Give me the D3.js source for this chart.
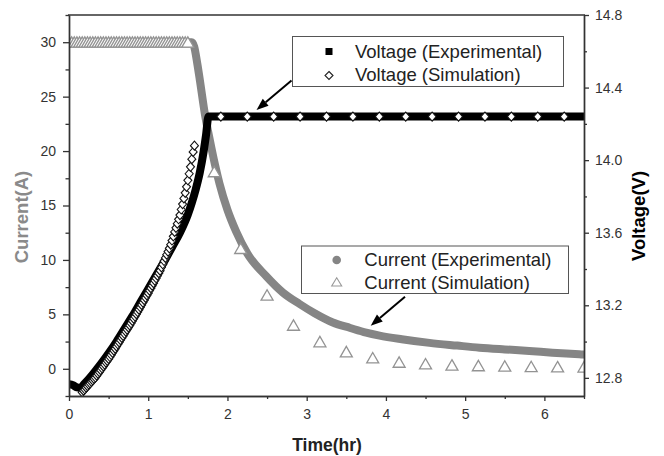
<!DOCTYPE html>
<html><head><meta charset="utf-8">
<script src="https://cdn.jsdelivr.net/npm/d3@7"></script>
<style>body{margin:0;background:#fff} svg{display:block} text{font-family:'Liberation Sans',Arial,sans-serif}</style>
</head><body><svg id="c" width="664" height="456"></svg>
<script>
// ---------- data ----------
const xTicks=[0,1,2,3,4,5,6];
const xMinorTicks=[0.5,1.5,2.5,3.5,4.5,5.5,6.5];
const currentTicks=[0,5,10,15,20,25,30];
const currentMinorTicks=[-2.5,2.5,7.5,12.5,17.5,22.5,27.5,32.5];
const voltageTicks=[12.8,13.2,13.6,14.0,14.4,14.8];
const voltageMinorTicks=[13.0,13.4,13.8,14.2,14.6];

// Voltage (Experimental), hours / volts
const voltageExpTime=[0,0.05,0.10,0.14,0.20,0.30,0.40,0.50,0.60,0.70,0.80,0.90,1.00,1.10,1.20,1.30,1.40,1.50,1.55,1.60,1.65,1.70,1.73,1.76,2.5,3.5,4.5,5.5,6.5];
const voltageExpValue=[12.765,12.76,12.747,12.745,12.77,12.82,12.875,12.935,13.0,13.07,13.14,13.215,13.29,13.365,13.44,13.52,13.60,13.70,13.765,13.84,13.93,14.05,14.14,14.24,14.24,14.24,14.24,14.24,14.24];

// Voltage (Simulation), minutes / volts
const voltageSimMin=[10,11,12,13,14,15,16,17,18,19,20,21,22,23,24,25,26,27,28,29,30,31,32,33,34,35,36,37,38,39,40,41,42,43,44,45,46,47,48,49,50,51,52,53,54,55,56,57,58,59,60,61,62,63,64,65,66,67,68,69,70,71,72,73,74,75,76,77,78,79,80,81,82,83,84,85,86,87,88,89,90,91,92,93,94,95,115,135,155,175,195,215,235,255,275,295,315,335,355,375];
const voltageSimValue=[12.720,12.729,12.737,12.746,12.754,12.763,12.770,12.778,12.786,12.794,12.802,12.812,12.822,12.832,12.842,12.853,12.863,12.873,12.884,12.894,12.904,12.915,12.926,12.938,12.950,12.961,12.973,12.985,12.996,13.008,13.020,13.031,13.043,13.055,13.066,13.078,13.089,13.101,13.114,13.126,13.138,13.151,13.163,13.176,13.189,13.202,13.215,13.228,13.241,13.254,13.267,13.281,13.294,13.308,13.322,13.336,13.349,13.363,13.377,13.391,13.409,13.426,13.444,13.461,13.479,13.496,13.514,13.534,13.557,13.580,13.604,13.627,13.650,13.674,13.697,13.728,13.758,13.789,13.820,13.853,13.889,13.925,13.963,14.005,14.045,14.080,14.24,14.24,14.24,14.24,14.24,14.24,14.24,14.24,14.24,14.24,14.24,14.24,14.24,14.24];

// Current (Experimental), hours / amps
const currentExpTime=[0,0.5,1.0,1.55,1.58,1.62,1.652,1.715,1.778,1.841,1.9,2.0,2.11,2.25,2.49,2.7,2.91,3.1,3.33,3.55,3.75,3.92,4.2,4.55,4.9,5.18,5.5,5.81,6.1,6.44,6.5];
const currentExpValue=[30,30,30,30,29.6,28,26.5,23.4,21.0,18.8,17.0,14.6,12.6,10.6,8.5,7.0,5.95,5.1,4.25,3.75,3.32,3.05,2.72,2.38,2.13,1.94,1.78,1.64,1.48,1.33,1.3];

// Current (Simulation), minutes / amps
const currentSimMin=[0,2,4,6,8,10,12,14,16,18,20,22,24,26,28,30,32,34,36,38,40,42,44,46,48,50,52,54,56,58,60,62,64,66,68,70,72,74,76,78,80,82,84,86,88,90,110,130,150,170,190,210,230,250,270,290,310,330,350,370,390];
const currentSimValue=[30,30,30,30,30,30,30,30,30,30,30,30,30,30,30,30,30,30,30,30,30,30,30,30,30,30,30,30,30,30,30,30,30,30,30,30,30,30,30,30,30,30,30,30,30,30,18.1,11.05,6.76,4.0,2.48,1.56,1.0,0.6,0.45,0.34,0.28,0.24,0.2,0.18,0.16];

// ---------- drawing ----------
const svg=d3.select('#c');
const L=69,R=584,T=15,B=396;
const x=d3.scaleLinear().domain([0,6.5]).range([L,R]);
const yI=d3.scaleLinear().domain([-2.5,32.5]).range([B,T]);
const yV=d3.scaleLinear().domain([12.7,14.8]).range([B,T]);
const axisCol='#333';

svg.append('defs').append('clipPath').attr('id','plot')
  .append('rect').attr('x',L).attr('y',T).attr('width',R-L).attr('height',B-T);
const g=svg.append('g').attr('clip-path','url(#plot)');

// current experimental (grey dense circles -> band)
g.append('path')
  .datum(currentExpTime.map((t,i)=>[t,currentExpValue[i]]))
  .attr('d',d3.line().x(d=>x(d[0])).y(d=>yI(d[1])).curve(d3.curveMonotoneX))
  .attr('fill','none').attr('stroke','#858585').attr('stroke-width',8)
  .attr('stroke-linejoin','round').attr('stroke-linecap','round');

// current simulation (open triangles)
const tri='M0,-5.4L6,5L-6,5Z';
g.selectAll('.ctri').data(currentSimMin.map((m,i)=>[m/60,currentSimValue[i]])).join('path')
  .attr('transform',d=>`translate(${x(d[0])},${yI(d[1])})`)
  .attr('d',tri).attr('fill','#fff').attr('stroke','#939393').attr('stroke-width',1.3);

// voltage experimental (black dense squares -> band)
g.append('path')
  .datum(voltageExpTime.map((t,i)=>[t,voltageExpValue[i]]))
  .attr('d',d3.line().x(d=>x(d[0])).y(d=>yV(d[1])).curve(d3.curveMonotoneX))
  .attr('fill','none').attr('stroke','#000').attr('stroke-width',8)
  .attr('stroke-linejoin','miter').attr('stroke-linecap','square');

// voltage simulation (open diamonds)
const dia='M0,-4.5L4,0L0,4.5L-4,0Z';
g.selectAll('.vdia').data(voltageSimMin.map((m,i)=>[m/60,voltageSimValue[i]])).join('path')
  .attr('transform',d=>`translate(${x(d[0])},${yV(d[1])})`)
  .attr('d',dia).attr('fill','#fff').attr('stroke','#111').attr('stroke-width',1.1);

// ---------- axes ----------
function styleAxis(sel){
  sel.selectAll('.domain').attr('stroke',axisCol).attr('stroke-width',1.4);
  sel.selectAll('.tick line').attr('stroke',axisCol).attr('stroke-width',1.3);
  sel.selectAll('.tick text').attr('fill','#333').attr('font-size','14px')
    .attr('font-family',"'Liberation Sans',Arial,sans-serif");
}
const ax=svg.append('g').attr('transform',`translate(0,${B})`)
  .call(d3.axisBottom(x).tickValues(xTicks).tickFormat(d3.format('d')).tickSize(5).tickSizeOuter(0).tickPadding(8));
styleAxis(ax);
const axm=svg.append('g').attr('transform',`translate(0,${B})`)
  .call(d3.axisBottom(x).tickValues(xMinorTicks).tickFormat('').tickSize(3).tickSizeOuter(0));
styleAxis(axm);

const ayl=svg.append('g').attr('transform',`translate(${L},0)`)
  .call(d3.axisLeft(yI).tickValues(currentTicks).tickFormat(d3.format('d')).tickSize(6).tickSizeOuter(0).tickPadding(7));
styleAxis(ayl);
const aylm=svg.append('g').attr('transform',`translate(${L},0)`)
  .call(d3.axisLeft(yI).tickValues(currentMinorTicks).tickFormat('').tickSize(3.5).tickSizeOuter(0));
styleAxis(aylm);

const ayr=svg.append('g').attr('transform',`translate(${R},0)`)
  .call(d3.axisRight(yV).tickValues(voltageTicks).tickFormat(d3.format('.1f')).tickSize(5).tickSizeOuter(0).tickPadding(6));
styleAxis(ayr);
const ayrm=svg.append('g').attr('transform',`translate(${R},0)`)
  .call(d3.axisRight(yV).tickValues(voltageMinorTicks).tickFormat('').tickSize(3).tickSizeOuter(0));
styleAxis(ayrm);

// top frame line
svg.append('line').attr('x1',L-1).attr('x2',R+1).attr('y1',T).attr('y2',T)
  .attr('stroke',axisCol).attr('stroke-width',1.4);

// axis titles
svg.append('text').attr('x',327).attr('y',451).attr('text-anchor','middle')
  .attr('font-size','17.5px').attr('font-weight','bold').attr('fill','#222').text('Time(hr)');
svg.append('text').attr('transform','translate(28,217) rotate(-90)').attr('text-anchor','middle')
  .attr('font-size','18.5px').attr('font-weight','bold').attr('fill','#8a8a8a').text('Current(A)');
svg.append('text').attr('transform','translate(645,216) rotate(-90)').attr('text-anchor','middle')
  .attr('font-size','18.5px').attr('font-weight','bold').attr('fill','#000').text('Voltage(V)');

// ---------- legends ----------
const lf='18.5px';
// voltage legend
svg.append('rect').attr('x',292.5).attr('y',36.5).attr('width',271).attr('height',50)
  .attr('fill','#fff').attr('stroke','#555').attr('stroke-width',1);
svg.append('rect').attr('x',325.5).attr('y',48).attr('width',7).attr('height',7).attr('fill','#000');
svg.append('path').attr('transform','translate(329,75.5)').attr('d','M0,-4L4,0L0,4L-4,0Z')
  .attr('fill','#fff').attr('stroke','#222').attr('stroke-width',1.1);
svg.append('text').attr('x',355).attr('y',57.7).attr('font-size',lf).attr('fill','#222').text('Voltage (Experimental)');
svg.append('text').attr('x',355).attr('y',81).attr('font-size',lf).attr('fill','#222').text('Voltage (Simulation)');
// current legend
svg.append('rect').attr('x',301.5).attr('y',246).attr('width',267).attr('height',47.5)
  .attr('fill','#fff').attr('stroke','#555').attr('stroke-width',1);
svg.append('circle').attr('cx',336.7).attr('cy',260).attr('r',4.3).attr('fill','#858585');
svg.append('path').attr('transform','translate(336.7,282)').attr('d','M0,-4.3L5,4L-5,4Z')
  .attr('fill','#fff').attr('stroke','#999').attr('stroke-width',1.1);
svg.append('text').attr('x',364.3).attr('y',266).attr('font-size',lf).attr('fill','#222').text('Current (Experimental)');
svg.append('text').attr('x',364.3).attr('y',289.3).attr('font-size',lf).attr('fill','#222').text('Current (Simulation)');

// ---------- arrows ----------
function arrow(x1,y1,x2,y2){
  const a=Math.atan2(y2-y1,x2-x1), len=12, w=4.5;
  const bx=x2-len*Math.cos(a), by=y2-len*Math.sin(a);
  svg.append('line').attr('x1',x1).attr('y1',y1).attr('x2',bx).attr('y2',by)
    .attr('stroke','#000').attr('stroke-width',2);
  const px=-Math.sin(a)*w, py=Math.cos(a)*w;
  svg.append('path').attr('d',`M${x2},${y2}L${bx+px},${by+py}L${bx-px},${by-py}Z`).attr('fill','#000');
}
arrow(291.5,80.5,256.5,110);
arrow(405,296.7,370.7,325.7);
</script></body></html>
